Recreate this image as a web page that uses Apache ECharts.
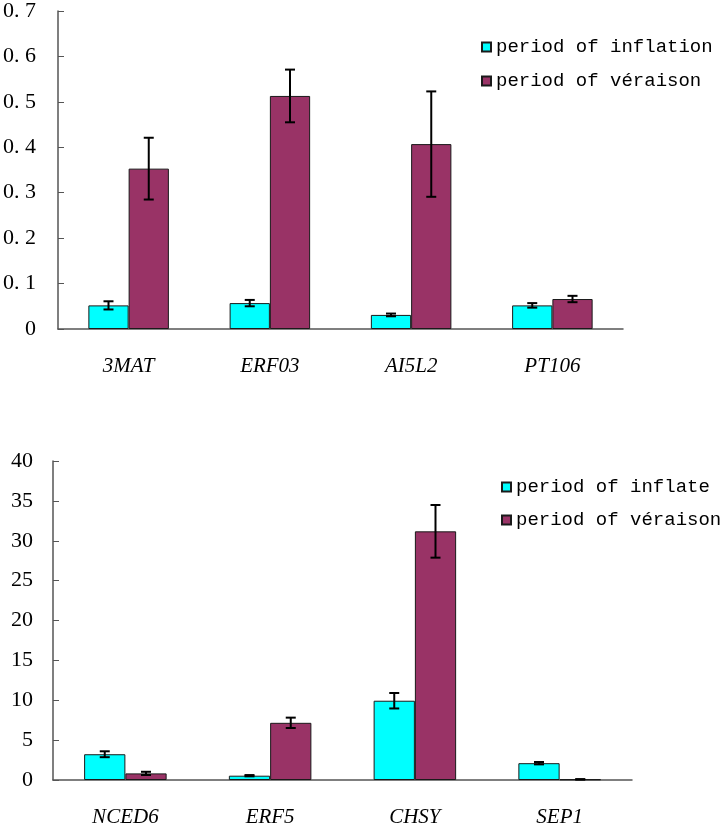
<!DOCTYPE html>
<html>
<head>
<meta charset="utf-8">
<script src="https://cdn.jsdelivr.net/npm/echarts@6/dist/echarts.min.js"></script>
<style>html,body{margin:0;padding:0;background:#fff;}#c{width:724px;height:828px;}</style>
</head>
<body>
<div id="c"></div>
<script>
var topCategories = ['3MAT', 'ERF03', 'AI5L2', 'PT106'];
var topInflation = [0.052, 0.057, 0.031, 0.052];
var topInflationErr = [0.009, 0.007, 0.003, 0.005];
var topVeraison = [0.353, 0.513, 0.407, 0.066];
var topVeraisonErr = [0.068, 0.058, 0.116, 0.007];
var topNames = ['period of inflation', 'period of véraison'];

var bottomCategories = ['NCED6', 'ERF5', 'CHSY', 'SEP1'];
var bottomInflate = [3.23, 0.54, 9.94, 2.11];
var bottomInflateErr = [0.37, 0.08, 0.97, 0.15];
var bottomVeraison = [0.83, 7.17, 31.18, 0.08];
var bottomVeraisonErr = [0.2, 0.65, 3.3, 0.03];
var bottomNames = ['period of inflate', 'period of véraison'];

var CYAN = '#00FFFF', PURPLE = '#993366', AXIS = '#555555';
var BAR_FRAC = 0.285;

function errData(vals, errs) {
  return vals.map(function (v, i) { return [i, v, errs[i]]; });
}
function errSeries(idx, vals, errs, side) {
  return {
    type: 'custom', xAxisIndex: idx, yAxisIndex: idx, z: 10, silent: true,
    data: errData(vals, errs),
    renderItem: function (params, api) {
      var c = api.value(0), v = api.value(1), e = api.value(2);
      var band = api.size([1, 0])[0];
      var off = side * band * BAR_FRAC / 2;
      var hi = api.coord([c, v + e]);
      var lo = api.coord([c, v - e]);
      var x = hi[0] + off;
      var cap = 5;
      var st = { stroke: '#000', lineWidth: 2 };
      return { type: 'group', children: [
        { type: 'line', shape: { x1: x, y1: hi[1], x2: x, y2: lo[1] }, style: st },
        { type: 'line', shape: { x1: x - cap, y1: hi[1], x2: x + cap, y2: hi[1] }, style: st },
        { type: 'line', shape: { x1: x - cap, y1: lo[1], x2: x + cap, y2: lo[1] }, style: st }
      ]};
    }
  };
}
function xAxis(idx, cats) {
  return {
    type: 'category', gridIndex: idx, data: cats, boundaryGap: true,
    axisLine: { lineStyle: { color: AXIS, width: 1.5 } },
    axisTick: { inside: true, length: 6, interval: 0, lineStyle: { color: AXIS } },
    axisLabel: { margin: 27, interval: 0, fontFamily: 'Liberation Serif', fontStyle: 'italic', fontSize: 21, color: '#000' }
  };
}
function yAxis(idx, max, interval, fmt, margin) {
  return {
    type: 'value', gridIndex: idx, min: 0, max: max, interval: interval,
    splitLine: { show: false },
    axisLine: { show: true, lineStyle: { color: AXIS, width: 1.5 } },
    axisTick: { show: true, inside: true, length: 6, lineStyle: { color: AXIS } },
    axisLabel: { margin: margin, fontFamily: 'Liberation Serif', fontSize: 22, color: '#000', formatter: fmt }
  };
}
var barItem = function (col) { return { color: col, borderColor: '#1a1a1a', borderWidth: 1 }; };

var chart = echarts.init(document.getElementById('c'), null, { renderer: 'canvas' });
chart.setOption({
  animation: false,
  backgroundColor: '#fff',
  grid: [
    { left: 57, top: 7, width: 566, height: 322 },
    { left: 53, top: 461, width: 579, height: 322 }
  ],
  legend: [
    { data: topNames, orient: 'vertical', left: 481, top: 37, padding: 0, icon: 'rect', itemWidth: 9, itemHeight: 9, itemGap: 14,
      textStyle: { fontFamily: 'Liberation Mono', fontSize: 19, color: '#000', lineHeight: 20 } },
    { data: bottomNames, orient: 'vertical', left: 501, top: 477, padding: 0, icon: 'rect', itemWidth: 9, itemHeight: 9, itemGap: 13,
      textStyle: { fontFamily: 'Liberation Mono', fontSize: 19, color: '#000', lineHeight: 20 } }
  ],
  xAxis: [xAxis(0, topCategories), xAxis(1, bottomCategories)],
  yAxis: [
    yAxis(0, 0.7, 0.1, function (v) { return v === 0 ? '0' : v.toFixed(1).replace('.', '. '); }, 22),
    yAxis(1, 40, 5, function (v) { return String(v); }, 20)
  ],
  series: [
    { name: topNames[0], type: 'bar', xAxisIndex: 0, yAxisIndex: 0, data: topInflation, barWidth: (BAR_FRAC * 100) + '%', barGap: '0%', itemStyle: barItem(CYAN) },
    { name: topNames[1], type: 'bar', xAxisIndex: 0, yAxisIndex: 0, data: topVeraison, barWidth: (BAR_FRAC * 100) + '%', barGap: '0%', itemStyle: barItem(PURPLE) },
    { name: bottomNames[0], type: 'bar', xAxisIndex: 1, yAxisIndex: 1, data: bottomInflate, barWidth: (BAR_FRAC * 100) + '%', barGap: '0%', itemStyle: barItem(CYAN) },
    { name: bottomNames[1], type: 'bar', xAxisIndex: 1, yAxisIndex: 1, data: bottomVeraison, barWidth: (BAR_FRAC * 100) + '%', barGap: '0%', itemStyle: barItem(PURPLE) },
    errSeries(0, topInflation, topInflationErr, -1),
    errSeries(0, topVeraison, topVeraisonErr, 1),
    errSeries(1, bottomInflate, bottomInflateErr, -1),
    errSeries(1, bottomVeraison, bottomVeraisonErr, 1)
  ]
});
</script>
</body>
</html>
